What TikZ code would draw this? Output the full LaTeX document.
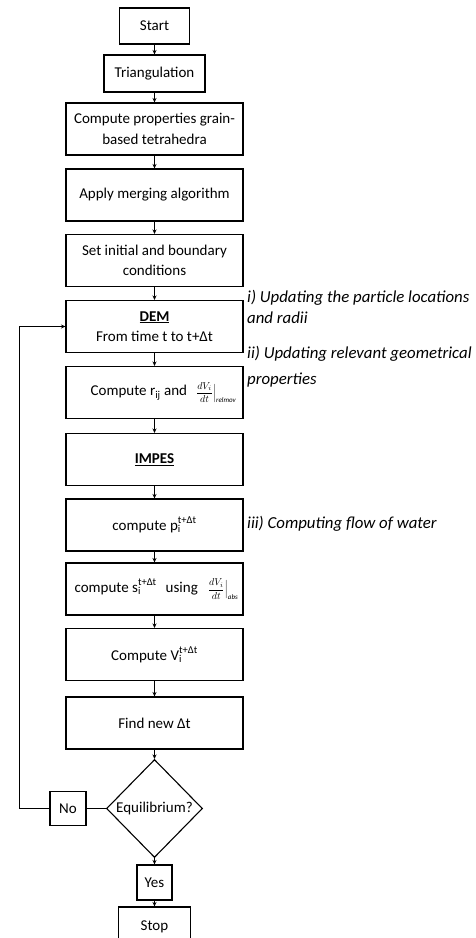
\documentclass[tikz,border=0pt]{standalone}
\usepackage{fontspec}
\setmainfont{Carlito}
\usetikzlibrary{shapes.geometric,arrows.meta}
\newcommand{\ratefrac}[1]{{\fontsize{10}{11}\selectfont$\displaystyle\frac{dV_i}{dt}\Big|_{\mathit{#1}}$}}
\newcommand{\tstep}[1]{#1\rlap{\textsubscript{i}}\raisebox{1.5pt}{\textsuperscript{t+Δt}}}
\begin{document}
\begin{tikzpicture}[x=1pt,y=-1pt,
  every node/.style={font=\fontsize{15}{20.5}\selectfont},
  pbox/.style={draw, line width=1.1pt, minimum width=177pt, minimum height=52pt, align=center, inner sep=0pt},
  sbox/.style={draw, line width=1.1pt, align=center, inner sep=0pt},
  arr/.style={-{Stealth[length=4.5pt,width=4pt]}, line width=0.8pt},
  link/.style={line width=1pt},
  note/.style={align=left, anchor=base west, inner sep=0pt}]
\useasboundingbox (0,0) rectangle (475,938);
\clip (0,0) rectangle (475,938);

% main column of process steps
\node[sbox, minimum width=70pt, minimum height=36pt] (start) at (154.5,26) {Start};
\node[sbox, minimum width=101pt, minimum height=37pt] (tri) at (154.5,73.5) {Triangulation};
\node[pbox] (props) at (154.5,129) {Compute properties grain-\\based tetrahedra};
\node[pbox] (merge) at (154.5,195) {Apply merging algorithm};
\node[pbox] (init) at (154.5,260.5) {Set initial and boundary\\conditions};
\node[pbox] (dem) at (154.5,326.5) {\textbf{\underline{DEM}}\\From time t to t+Δt};
\node[pbox] (rij) at (154.5,392.5) {\hspace*{18pt}Compute r\textsubscript{ij} and\hspace{9pt}\ratefrac{relmov}};
\node[pbox] (impes) at (154.5,459.5) {\textbf{\underline{IMPES}}};
\node[pbox] (pres) at (154.5,525) {compute \tstep{p}};
\node[pbox] (sat) at (154.5,589) {\hspace*{4pt}compute \tstep{s}\hspace{9pt}using\hspace{10pt}\ratefrac{abs}};
\node[pbox] (vol) at (154.5,654.5) {Compute \tstep{V}};
\node[pbox] (newdt) at (154.5,723) {Find new Δt};
\node[diamond, draw, line width=1.1pt, minimum width=96pt, minimum height=98pt, inner sep=0pt] (eq) at (154.5,808.5) {Equilibrium?};
\node[sbox, minimum width=36pt, minimum height=34pt] (no) at (68,808.5) {No};
\node[sbox, minimum width=35pt, minimum height=35pt] (yes) at (154.5,882.5) {Yes};
\node[sbox, minimum width=72pt, minimum height=40pt] (stop) at (154.5,927) {Stop};

% downward flow
\draw[arr] (start.south) -- (tri.north);
\draw[arr] (tri.south) -- (props.north);
\draw[arr] (props.south) -- (merge.north);
\draw[arr] (merge.south) -- (init.north);
\draw[arr] (init.south) -- (dem.north);
\draw[arr] (dem.south) -- (rij.north);
\draw[arr] (rij.south) -- (impes.north);
\draw[arr] (impes.south) -- (pres.north);
\draw[arr] (pres.south) -- (sat.north);
\draw[arr] (sat.south) -- (vol.north);
\draw[arr] (vol.south) -- (newdt.north);
\draw[arr] (newdt.south) -- (eq.north);
\draw[arr] (eq.south) -- (yes.north);
\draw[arr] (yes.south) -- (stop.north);

% loop back to the DEM step
\coordinate (back) at (19,808.5);
\draw[link] (eq.west) -- (no.east);
\draw[arr] (no.west) -- (back) |- (dem.west);

% side notes
\node[note, font=\fontsize{16.8}{21}\selectfont\itshape] (n1) at (247,323) {i) Updating the particle locations\\and radii};
\node[note, font=\fontsize{16.8}{26}\selectfont\itshape] (n2) at (247,384) {ii) Updating relevant geometrical\\properties};
\node[note, font=\fontsize{16.8}{21}\selectfont\itshape] (n3) at (247,528) {iii) Computing flow of water};
\end{tikzpicture}
\end{document}
